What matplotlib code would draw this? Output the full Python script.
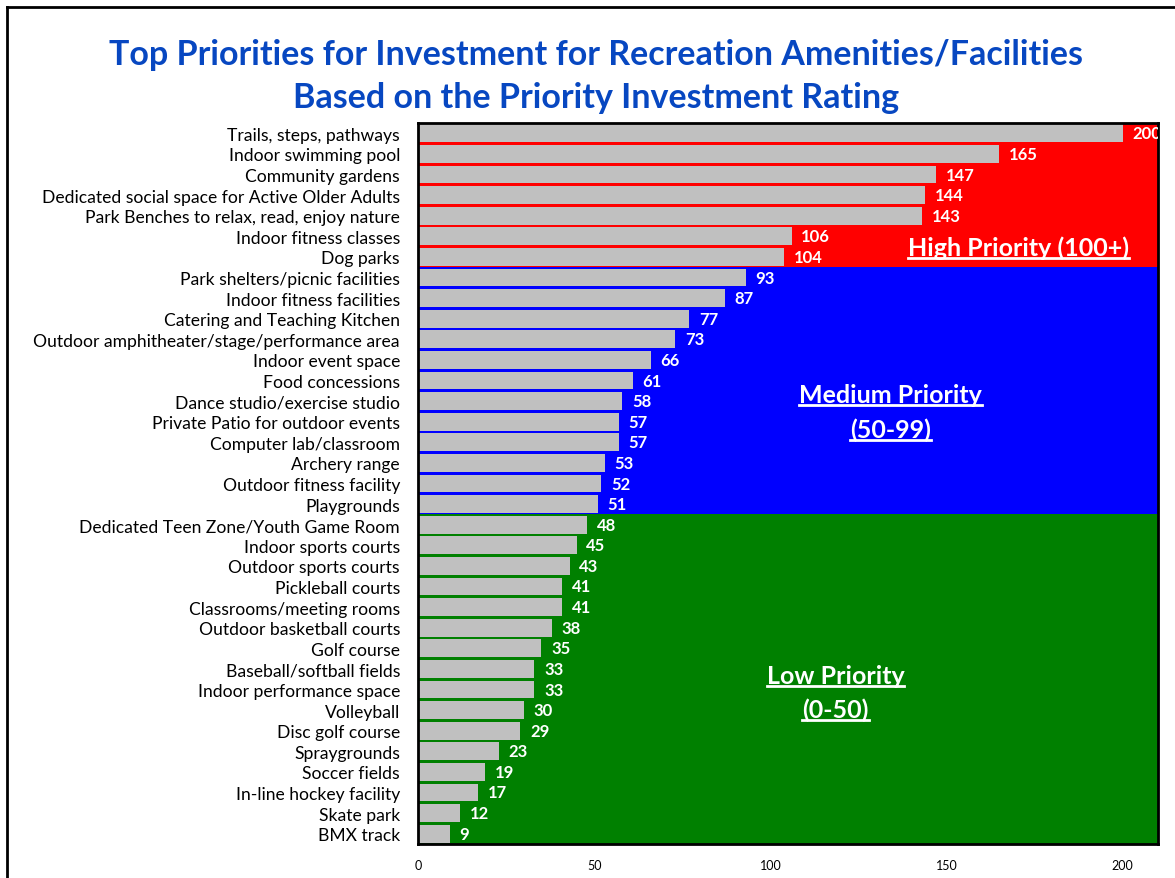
import matplotlib
matplotlib.use("Agg")
import matplotlib.pyplot as plt
from matplotlib.lines import Line2D

plt.rcParams['font.family'] = ['Lato', 'DejaVu Sans']

categories = [
    "Trails, steps, pathways", "Indoor swimming pool", "Community gardens",
    "Dedicated social space for Active Older Adults",
    "Park Benches to relax, read, enjoy nature", "Indoor fitness classes",
    "Dog parks", "Park shelters/picnic facilities", "Indoor fitness facilities",
    "Catering and Teaching Kitchen",
    "Outdoor amphitheater/stage/performance area", "Indoor event space",
    "Food concessions", "Dance studio/exercise studio",
    "Private Patio for outdoor events", "Computer lab/classroom",
    "Archery range", "Outdoor fitness facility", "Playgrounds",
    "Dedicated Teen Zone/Youth Game Room", "Indoor sports courts",
    "Outdoor sports courts", "Pickleball courts", "Classrooms/meeting rooms",
    "Outdoor basketball courts", "Golf course", "Baseball/softball fields",
    "Indoor performance space", "Volleyball", "Disc golf course",
    "Spraygrounds", "Soccer fields", "In-line hockey facility", "Skate park",
    "BMX track",
]
values = [200, 165, 147, 144, 143, 106, 104, 93, 87, 77, 73, 66, 61, 58, 57,
          57, 53, 52, 51, 48, 45, 43, 41, 41, 38, 35, 33, 33, 30, 29, 23, 19,
          17, 12, 9]

# priority bands: (first row, last row, colour)
bands = [
    (0, 6, '#FF0000'),
    (7, 18, '#0000FF'),
    (19, 34, '#008000'),
]
# band captions, one entry per text line: (text, x, row)
band_lines = [
    ("High Priority (100+)", 170.5, 5.52),
    ("Medium Priority", 134, 12.66),
    ("(50-99)", 134, 14.35),
    ("Low Priority", 118.5, 26.3),
    ("(0-50)", 118.5, 27.95),
]

fig = plt.figure(figsize=(11.75, 8.79), dpi=100)
ax = fig.add_axes([418 / 1175, 1 - 845 / 879, 740 / 1175, 721 / 879])

n = len(categories)
ypos = list(range(n))

for r0, r1, col in bands:
    ax.axhspan(r0 - 0.5, r1 + 0.5, color=col, zorder=0, lw=0)

ax.barh(ypos, values, height=0.86, color='#C0C0C0', zorder=2)

for y, v in zip(ypos, values):
    ax.annotate(str(v), (v, y), xytext=(7, 0), textcoords='offset points',
                ha='left', va='center', color='white', fontweight='bold',
                fontsize=12, zorder=3, annotation_clip=False, clip_on=True)

band_texts = []
for lab, bx, by in band_lines:
    t = ax.text(bx, by, lab, ha='center', va='center', color='white',
                fontweight='bold', fontsize=18, zorder=4)
    band_texts.append(t)

ax.set_xlim(0, 210)
ax.set_ylim(n - 0.5, -0.5)
ax.set_yticks(ypos)
ax.set_yticklabels(categories, fontsize=12.6)
ax.set_xticks([0, 50, 100, 150, 200])
ax.tick_params(axis='both', length=0)
ax.tick_params(axis='x', labelsize=9, pad=11)
ax.tick_params(axis='y', pad=13)
for s in ax.spines.values():
    s.set_linewidth(2)

fig.text(0.507, 0.913, "Top Priorities for Investment for Recreation Amenities/Facilities\n"
         "Based on the Priority Investment Rating", ha='center', va='center',
         color='#0747C1', fontweight='bold', fontsize=24.5, linespacing=1.42)

# figure frame (top and left edges)
fig.add_artist(Line2D([7 / 1175, 7 / 1175], [0, 1 - 8 / 879], color='black', lw=2,
                      transform=fig.transFigure))
fig.add_artist(Line2D([7 / 1175, 1], [1 - 8 / 879, 1 - 8 / 879], color='black', lw=2,
                      transform=fig.transFigure))

# underline the band captions
fig.canvas.draw()
renderer = fig.canvas.get_renderer()
inv = fig.transFigure.inverted()
for t in band_texts:
    bb = t.get_window_extent(renderer)
    (x0, y0) = inv.transform((bb.x0, bb.y0 + 0.5))
    (x1, _) = inv.transform((bb.x1, bb.y0 + 0.5))
    fig.add_artist(Line2D([x0, x1], [y0, y0], color='white', lw=2,
                          transform=fig.transFigure, zorder=5))

fig.savefig('out.png', dpi=100)
